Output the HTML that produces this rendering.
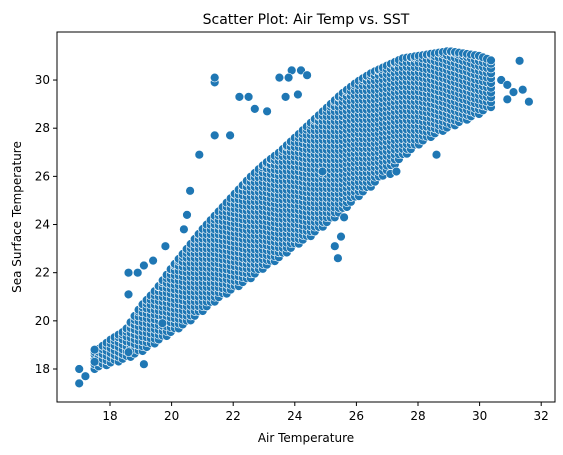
<!DOCTYPE html>
<html><head><meta charset="utf-8"><style>
body{margin:0;background:#fff;}
svg{display:block;font-family:"DejaVu Sans","Liberation Sans",sans-serif;}
</style></head><body>
<svg id="chart" width="563" height="455" viewBox="0 0 563 455">
<rect width="563" height="455" fill="#fff"/>
<g id="marks"></g>
<rect x="57" y="32" width="498" height="370" fill="none" stroke="#000" stroke-width="1"/>
<g id="xt"></g>
<g id="yt"></g>
<text x="306" y="24" text-anchor="middle" font-size="14">Scatter Plot: Air Temp vs. SST</text>
<text x="306" y="442" text-anchor="middle" font-size="12">Air Temperature</text>
<text x="21" y="217" text-anchor="middle" font-size="12" transform="rotate(-90 21 217)">Sea Surface Temperature</text>
</svg>
<script>
const bandX  = [17.5,18,18.5,19,19.5,20,20.5,21,21.5,22,22.5,23,23.5,24,24.5,25,25.5,26,26.5,27,27.5,28,28.5,29,29.5,30,30.4];
const bandLo = [18.0,18.2,18.4,18.7,19.1,19.5,19.9,20.4,20.9,21.3,21.7,22.2,22.6,23.1,23.5,24.0,24.5,25.1,25.6,26.2,26.8,27.3,27.7,28.0,28.3,28.6,28.9];
const bandHi = [18.7,19.2,19.6,20.6,21.3,22.2,23.0,23.8,24.5,25.2,25.9,26.5,27.0,27.6,28.2,28.8,29.4,29.9,30.3,30.6,30.9,31.0,31.1,31.2,31.1,31.0,30.8];
const outX = [17,17,17.2,17.5,17.5,18.6,18.6,18.9,19.1,19.4,19.8,20.4,20.5,20.6,20.9,21.4,21.4,21.4,21.9,22.2,22.5,22.7,23.1,23.5,23.7,23.9,23.8,24.2,24.4,24.1,24.9,25.3,25.4,25.6,25.5,27.1,27.3,28.6,30.7,30.9,31.1,31.3,31.4,31.6,30.9,19.1,19.7,18.6];
const outY = [18.0,17.4,17.7,18.3,18.8,22.0,21.1,22.0,22.3,22.5,23.1,23.8,24.4,25.4,26.9,27.7,29.9,30.1,27.7,29.3,29.3,28.8,28.7,30.1,29.3,30.4,30.1,30.4,30.2,29.4,26.2,23.1,22.6,24.3,23.5,26.1,26.2,26.9,30.0,29.8,29.5,30.8,29.6,29.1,29.2,18.2,19.9,18.7];
const xTicks = [18,20,22,24,26,28,30,32];
const yTicks = [18,20,22,24,26,28,30];

const sx = v => 110 + (v-18)*30.8;
const sy = v => 369 - (v-18)*24.08;
const NS = "http://www.w3.org/2000/svg";
const marks = document.getElementById('marks');
function dot(x,y,name){
  const c = document.createElementNS(NS,'circle');
  c.setAttribute('cx',sx(x).toFixed(1));
  c.setAttribute('cy',sy(y).toFixed(1));
  c.setAttribute('r','4.4');
  c.setAttribute('fill','#1f77b4');
  c.setAttribute('stroke','#fff');
  c.setAttribute('stroke-width','0.6');
  
  
  marks.appendChild(c);
}
function lerp(arr, x){
  if(x<=bandX[0]) return arr[0];
  for(let i=1;i<bandX.length;i++){
    if(x<=bandX[i]){const t=(x-bandX[i-1])/(bandX[i]-bandX[i-1]);return arr[i-1]+t*(arr[i]-arr[i-1]);}
  }
  return arr[arr.length-1];
}
let k=0;
for(let x=bandX[0]; x<=bandX[bandX.length-1]; x+=0.13){
  const lo=lerp(bandLo,x), hi=lerp(bandHi,x);
  const off=(k%3)*0.06; k++;
  for(let y=lo+off; y<=hi; y+=0.2){ dot(x,y,'data-point'); }
  dot(x,hi,'data-point');
}
for(let i=0;i<outX.length;i++) dot(outX[i],outY[i],'outlier-point');

const xt = document.getElementById('xt');
xTicks.forEach(t=>{
  const l=document.createElementNS(NS,'line');
  l.setAttribute('x1',sx(t));l.setAttribute('x2',sx(t));l.setAttribute('y1',402);l.setAttribute('y2',406);l.setAttribute('stroke','#000');
  
  
  xt.appendChild(l);
  const s=document.createElementNS(NS,'text');
  s.setAttribute('x',sx(t));s.setAttribute('y',420);s.setAttribute('text-anchor','middle');s.setAttribute('font-size','12');
  s.textContent=t;
  
  
  xt.appendChild(s);
});
const yt = document.getElementById('yt');
yTicks.forEach(t=>{
  const l=document.createElementNS(NS,'line');
  l.setAttribute('x1',53);l.setAttribute('x2',57);l.setAttribute('y1',sy(t));l.setAttribute('y2',sy(t));l.setAttribute('stroke','#000');
  
  
  yt.appendChild(l);
  const s=document.createElementNS(NS,'text');
  s.setAttribute('x',50);s.setAttribute('y',sy(t)+4);s.setAttribute('text-anchor','end');s.setAttribute('font-size','12');
  s.textContent=t;
  
  
  yt.appendChild(s);
});
</script>
</body></html>
